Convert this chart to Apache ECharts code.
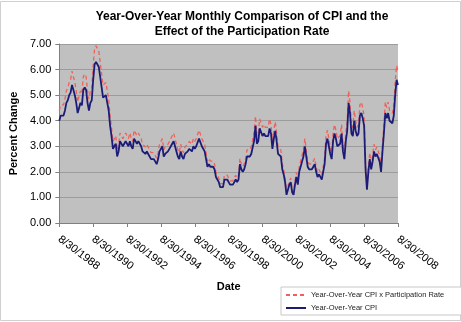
<!DOCTYPE html>
<html>
<head>
<meta charset="utf-8">
<script src="https://cdn.jsdelivr.net/npm/echarts@6/dist/echarts.min.js"></script>
<style>
html,body{margin:0;padding:0;background:#fff;}
#chart{width:461px;height:322px;}
</style>
</head>
<body>
<div id="chart"></div>
<script>
// Monthly, Aug 1988 .. Aug 2008
var startYear = 1988, startMonth = 8, nMonths = 241;
var categories = [];
for (var i = 0; i < nMonths; i++) {
  var m = (startMonth - 1 + i) % 12 + 1;
  var y = startYear + Math.floor((startMonth - 1 + i) / 12);
  categories.push(m + '/30/' + y);
}

var tickLabels = ['8/30/1988','8/30/1990','8/30/1992','8/30/1994','8/30/1996','8/30/1998',
                  '8/30/2000','8/30/2002','8/30/2004','8/30/2006','8/30/2008'];

var yTicks = [0, 1, 2, 3, 4, 5, 6, 7];

var cpi = [
  4.0, 4.2, 4.2, 4.2, 4.4,
  4.7, 4.8, 5.0, 5.1, 5.4, 5.2, 5.0, 4.7, 4.3, 4.5, 4.7, 4.6,
  5.2, 5.3, 5.2, 4.7, 4.4, 4.7, 4.8, 5.6, 6.2, 6.3, 6.3, 6.1,
  5.7, 5.3, 4.9, 4.9, 5.0, 4.7, 4.4, 3.8, 3.4, 2.9, 3.0, 3.1,
  2.6, 2.8, 3.2, 3.2, 3.0, 3.1, 3.2, 3.1, 3.0, 3.2, 3.0, 2.9,
  3.3, 3.2, 3.1, 3.2, 3.2, 3.0, 2.8, 2.8, 2.7, 2.8, 2.7, 2.7,
  2.5, 2.5, 2.5, 2.4, 2.3, 2.5, 2.8, 2.9, 3.0, 2.6, 2.7, 2.7,
  2.8, 2.9, 2.9, 3.1, 3.2, 3.0, 2.8, 2.6, 2.5, 2.8, 2.6, 2.5,
  2.7, 2.7, 2.8, 2.9, 2.9, 2.8, 3.0, 2.9, 3.0, 3.0, 3.3, 3.3,
  3.0, 3.0, 2.8, 2.5, 2.2, 2.3, 2.2, 2.2, 2.2, 2.1, 1.8, 1.7,
  1.6, 1.4, 1.4, 1.4, 1.7, 1.7, 1.7, 1.6, 1.5, 1.5, 1.5, 1.6,
  1.7, 1.6, 1.7, 2.3, 2.1, 2.0, 2.1, 2.3, 2.6, 2.6, 2.6, 2.7,
  2.7, 3.2, 3.8, 3.1, 3.2, 3.7, 3.7, 3.4, 3.5, 3.4, 3.4, 3.4,
  3.7, 3.5, 2.9, 3.3, 3.6, 3.2, 2.7, 2.7, 2.6, 2.1, 1.9, 1.6,
  1.1, 1.1, 1.5, 1.6, 1.2, 1.1, 1.5, 1.8, 1.5, 2.0, 2.2, 2.4,
  2.6, 3.0, 3.0, 2.2, 2.1, 2.1, 2.1, 2.2, 2.3, 2.0, 1.8, 1.9,
  1.9, 1.7, 1.7, 2.3, 3.1, 3.3, 3.0, 2.7, 2.5, 3.2, 3.5, 3.3,
  3.0, 3.0, 3.1, 3.5, 2.8, 2.5, 3.2, 3.6, 4.7, 4.3, 3.5, 3.4,
  4.0, 3.6, 3.4, 3.5, 4.2, 4.3, 4.1, 3.8, 2.1, 1.3, 2.0, 2.5,
  2.1, 2.4, 2.8, 2.6, 2.7, 2.7, 2.4, 2.0, 2.8, 3.5, 4.3, 4.1,
  4.3, 4.0, 4.0, 3.9, 4.2, 5.0, 5.6, 5.4
];

var cpiPart = [
  4.40, 4.62, 4.62, 4.62, 4.84,
  5.17, 5.28, 5.50, 5.61, 5.94, 5.72, 5.50, 5.17, 4.73, 4.95, 5.17, 5.06,
  5.72, 5.83, 5.72, 5.17, 4.84, 5.17, 5.28, 6.16, 6.82, 6.93, 6.93, 6.71,
  6.27, 5.83, 5.39, 5.39, 5.50, 5.17, 4.84, 4.18, 3.74, 3.19, 3.30, 3.41,
  2.86, 3.08, 3.52, 3.52, 3.30, 3.41, 3.52, 3.41, 3.30, 3.52, 3.30, 3.19,
  3.63, 3.52, 3.41, 3.52, 3.52, 3.30, 3.08, 3.08, 2.97, 3.08, 2.97, 2.97,
  2.75, 2.75, 2.75, 2.64, 2.53, 2.75, 3.08, 3.19, 3.30, 2.86, 2.97, 2.97,
  3.08, 3.19, 3.19, 3.41, 3.52, 3.30, 3.08, 2.86, 2.75, 3.08, 2.86, 2.75,
  2.97, 2.97, 3.08, 3.19, 3.19, 3.08, 3.30, 3.19, 3.30, 3.30, 3.63, 3.63,
  3.30, 3.30, 3.08, 2.75, 2.42, 2.53, 2.42, 2.42, 2.42, 2.31, 1.98, 1.87,
  1.76, 1.54, 1.54, 1.54, 1.87, 1.87, 1.87, 1.76, 1.65, 1.65, 1.65, 1.76,
  1.87, 1.76, 1.87, 2.53, 2.31, 2.20, 2.31, 2.53, 2.86, 2.86, 2.86, 2.97,
  2.97, 3.52, 4.18, 3.41, 3.52, 4.07, 4.07, 3.74, 3.85, 3.74, 3.74, 3.74,
  4.07, 3.85, 3.19, 3.63, 3.96, 3.52, 2.97, 2.97, 2.86, 2.31, 2.09, 1.76,
  1.21, 1.21, 1.65, 1.76, 1.32, 1.21, 1.65, 1.98, 1.65, 2.20, 2.42, 2.64,
  2.86, 3.30, 3.30, 2.42, 2.31, 2.31, 2.31, 2.42, 2.53, 2.20, 1.98, 2.09,
  2.09, 1.87, 1.87, 2.53, 3.41, 3.63, 3.30, 2.97, 2.75, 3.52, 3.85, 3.63,
  3.30, 3.30, 3.41, 3.85, 3.08, 2.75, 3.52, 3.96, 5.17, 4.73, 3.85, 3.74,
  4.40, 3.96, 3.74, 3.85, 4.62, 4.73, 4.51, 4.18, 2.31, 1.43, 2.20, 2.75,
  2.31, 2.64, 3.08, 2.86, 2.97, 2.97, 2.64, 2.20, 3.08, 3.85, 4.73, 4.51,
  4.73, 4.40, 4.40, 4.29, 4.62, 5.50, 6.16, 5.94
];

var seriesNames = ['Year-Over-Year CPI x Participation Rate', 'Year-Over-Year CPI'];

var chart = echarts.init(document.getElementById('chart'), null, {renderer: 'canvas'});
var FONT = 'Liberation Sans, Arial, sans-serif';
chart.setOption({
  animation: false,
  backgroundColor: '#ffffff',
  textStyle: {fontFamily: FONT},
  title: {
    text: 'Year-Over-Year Monthly Comparison of CPI and the\nEffect of the Participation Rate',
    left: 237, top: 4, textAlign: 'center',
    textStyle: {fontFamily: FONT, fontSize: 12, fontWeight: 'bold', color: '#000', lineHeight: 15}
  },
  graphic: [{
    type: 'rect', shape: {x: 0.5, y: 1.5, width: 460, height: 319},
    style: {fill: 'none', stroke: '#d0d0d0', lineWidth: 1}, silent: true, z: -1
  }],
  legend: {
    orient: 'vertical', left: 281, top: 287,
    padding: [4, 22, 3, 4], itemGap: 5, itemWidth: 20, itemHeight: 8,
    borderColor: '#c8c8c8', borderWidth: 1, backgroundColor: '#fff',
    itemStyle: {opacity: 0, borderWidth: 0},
    textStyle: {fontFamily: FONT, fontSize: 7.5, color: '#222'},
    data: seriesNames
  },
  grid: {left: 58, right: 63, top: 44, bottom: 99, show: true, backgroundColor: '#c0c0c0', borderWidth: 0, containLabel: false},
  xAxis: {
    type: 'category', data: categories, boundaryGap: false,
    name: 'Date', nameLocation: 'middle', nameGap: 58,
    nameTextStyle: {fontFamily: FONT, fontSize: 11, fontWeight: 'bold', color: '#000'},
    axisLine: {show: true, lineStyle: {color: '#808080', width: 1}},
    axisTick: {show: true, interval: 23, length: 4, lineStyle: {color: '#808080'}},
    axisLabel: {
      interval: 23, rotate: -37, margin: 15, fontSize: 11, fontFamily: FONT, color: '#000',
      formatter: function (v, idx) { return tickLabels[Math.round(idx / 24)] || v; }
    },
    splitLine: {show: false}
  },
  yAxis: {
    type: 'value', min: yTicks[0], max: yTicks[yTicks.length - 1], interval: 1,
    name: 'Percent Change', nameLocation: 'middle', nameGap: 37, nameRotate: 90,
    nameTextStyle: {fontFamily: FONT, fontSize: 11, fontWeight: 'bold', color: '#000'},
    axisLine: {show: true, lineStyle: {color: '#808080', width: 1}},
    axisTick: {show: true, length: 4, lineStyle: {color: '#808080'}},
    axisLabel: {margin: 8, fontSize: 11, fontFamily: FONT, color: '#000',
      formatter: function (v) { return v.toFixed(2); }},
    splitLine: {show: true, lineStyle: {color: '#9c9c9c', width: 1}}
  },
  series: [
    {
      name: seriesNames[0], type: 'line', data: cpiPart, symbol: 'none', smooth: false,
      lineStyle: {color: '#f0605a', width: 1.3, type: [4, 3]},
      itemStyle: {color: '#f0605a'}, z: 2
    },
    {
      name: seriesNames[1], type: 'line', data: cpi, symbol: 'none', smooth: false,
      lineStyle: {color: '#1c1c78', width: 1.8},
      itemStyle: {color: '#1c1c78'}, z: 3
    }
  ]
});
</script>
</body>
</html>
